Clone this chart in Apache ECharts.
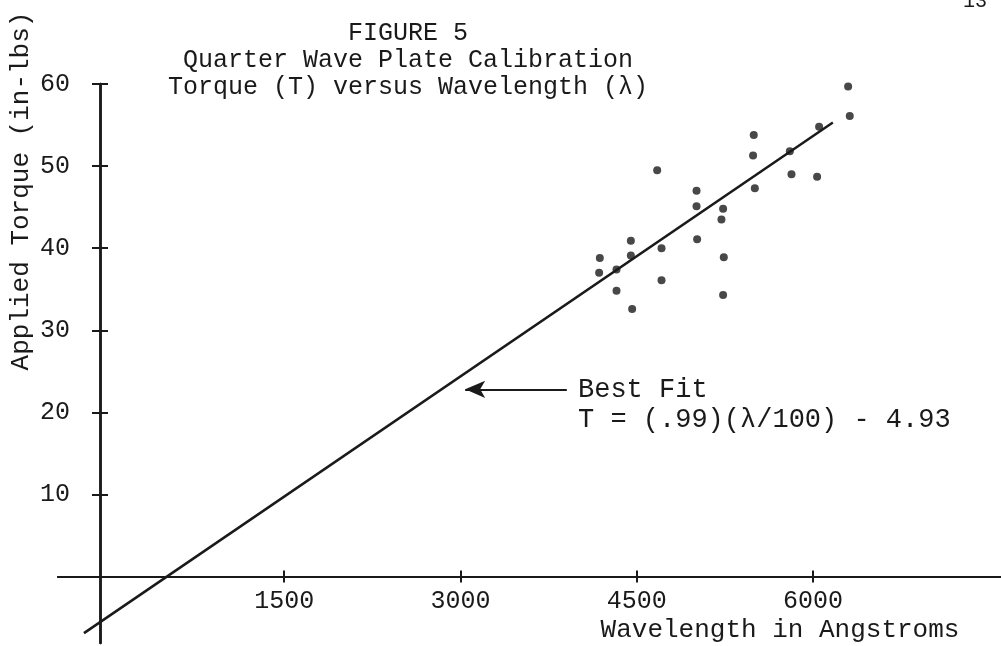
<!DOCTYPE html>
<html>
<head>
<meta charset="utf-8">
<script src="https://cdn.jsdelivr.net/npm/echarts@6/dist/echarts.min.js"></script>
<style>
  html, body { margin: 0; padding: 0; background: #fff; }
  #chart { width: 1001px; height: 646px; }
</style>
</head>
<body>
<div id="chart"></div>
<script>
// 数据点
const wavelengths = [6299, 6313, 6052, 5803, 5496, 5490, 5817, 6035, 5505, 4674, 5009, 5009, 5235,
    5221, 5014, 5241, 5235, 4450, 4450, 4711, 4711, 4186, 4180, 4328, 4328, 4461];
const torques = [59.7, 56.1, 54.8, 51.8, 53.8, 51.3, 49.0, 48.7, 47.3, 49.5, 47.0, 45.1, 44.8,
    43.5, 41.1, 38.9, 34.3, 40.9, 39.1, 40.0, 36.1, 38.8, 37.0, 37.4, 34.8, 32.6];
// best fit line ends
const fitLambda = [-204, 6169];
const fitTorque = [-6.9, 55.3];
const xTicks = [1500, 3000, 4500, 6000];
const yTicks = [10, 20, 30, 40, 50, 60];
// arrow pointing at the fit line
const arrowLambda = [3905, 3040];
const arrowTorque = [22.8, 22.8];

const ink = '#1a1a1a';
const mono = '"Liberation Mono", "DejaVu Sans Mono", monospace';

const points = wavelengths.map((w, i) => [w, torques[i]]);
const fitData = fitLambda.map((w, i) => [w, fitTorque[i]]);

const xBase = {
    type: 'value',
    min: -425,
    max: 7600,
    splitLine: { show: false },
};
const yBase = {
    type: 'value',
    min: -8.1,
    max: 60,
    splitLine: { show: false },
};
const tickStyle = { color: ink, width: 2 };

const option = {
    animation: false,
    backgroundColor: '#fff',
    grid: { left: 58, right: 0, top: 84, bottom: 3, outerBoundsMode: 'none' },
    title: {
        text: 'FIGURE 5\nQuarter Wave Plate Calibration\nTorque (T) versus Wavelength (λ)',
        left: 408,
        top: 20,
        textAlign: 'center',
        padding: 0,
        textStyle: { fontFamily: mono, fontSize: 25, fontWeight: 'normal', color: ink, lineHeight: 27, align: 'center' }
    },
    xAxis: [
        // main axis, ticks pointing down
        Object.assign({}, xBase, {
            position: 'bottom',
            offset: -66.5,
            axisLine: { onZero: false, lineStyle: { color: ink, width: 2 } },
            axisTick: { show: true, length: 6, customValues: xTicks, lineStyle: tickStyle },
            axisLabel: { customValues: xTicks, margin: 12, fontFamily: mono, fontSize: 25, color: ink, formatter: v => String(v) }
        }),
        // same axis drawn from the top side so the ticks also point up
        // (its labels are pushed off the canvas)
        Object.assign({}, xBase, {
            position: 'top',
            offset: -492.5,
            axisLine: { show: true, onZero: false, lineStyle: { color: ink, width: 2 } },
            axisTick: { show: true, length: 6, customValues: xTicks, lineStyle: { color: ink, width: 2 } },
            axisLabel: { show: true, customValues: xTicks, margin: 2000, color: ink }
        })
    ],
    yAxis: [
        Object.assign({}, yBase, {
            position: 'left',
            offset: -42,
            axisLine: { show: true, onZero: false, lineStyle: { color: ink, width: 2.5 } },
            axisTick: { show: true, length: 8, customValues: yTicks, lineStyle: tickStyle },
            axisLabel: { customValues: yTicks, margin: 30, fontFamily: mono, fontSize: 25, color: ink, formatter: v => String(v) }
        }),
        Object.assign({}, yBase, {
            position: 'right',
            offset: -901,
            axisLine: { show: true, onZero: false, lineStyle: { color: ink, width: 2.5 } },
            axisTick: { show: true, length: 8, customValues: yTicks, lineStyle: { color: ink, width: 2 } },
            axisLabel: { show: true, customValues: yTicks, margin: 2000, color: ink }
        })
    ],
    graphic: [
        {
            type: 'text', x: 21, y: 191, rotation: Math.PI / 2,
            style: { text: 'Applied Torque (in-lbs)', font: '26px ' + mono, fill: ink, align: 'center', verticalAlign: 'middle' }
        },
        {
            type: 'text', x: 780, y: 630,
            style: { text: 'Wavelength in Angstroms', font: '26px ' + mono, fill: ink, align: 'center', verticalAlign: 'middle' }
        },
        {
            type: 'text', x: 578, y: 390,
            style: { text: 'Best Fit', font: '27px ' + mono, fill: ink, align: 'left', verticalAlign: 'middle' }
        },
        {
            type: 'text', x: 578, y: 420,
            style: { text: 'T = (.99)(λ/100) - 4.93', font: '27px ' + mono, fill: ink, align: 'left', verticalAlign: 'middle' }
        },
        {
            type: 'text', x: 975, y: 2,
            style: { text: '13', font: '20px ' + mono, fill: ink, align: 'center', verticalAlign: 'middle' }
        }
    ],
    series: [
        {
            name: 'Best Fit',
            type: 'line',
            data: fitData,
            symbol: 'none',
            lineStyle: { color: ink, width: 2.5 },
            markLine: {
                silent: true,
                symbol: ['none', 'arrow'],
                symbolSize: [13, 20],
                label: { show: false },
                lineStyle: { color: ink, width: 2, type: 'solid' },
                data: [[
                    { coord: [arrowLambda[0], arrowTorque[0]] },
                    { coord: [arrowLambda[1], arrowTorque[1]] }
                ]]
            }
        },
        {
            name: 'Data',
            type: 'scatter',
            data: points,
            symbol: 'circle',
            symbolSize: 8,
            itemStyle: { color: ink }
        }
    ]
};

const chart = echarts.init(document.getElementById('chart'));
chart.setOption(option);
</script>
</body>
</html>
